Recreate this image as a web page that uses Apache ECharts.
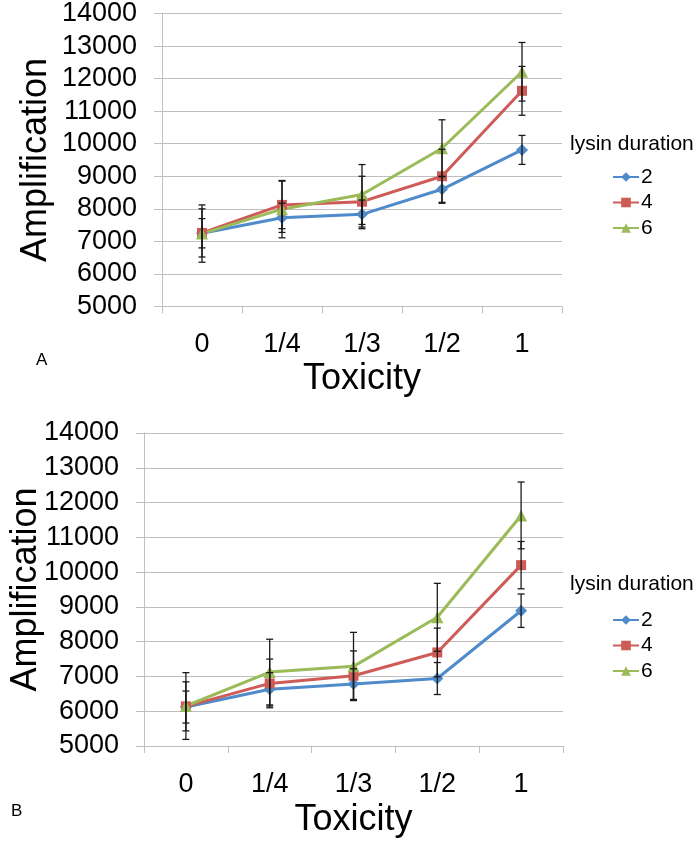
<!DOCTYPE html>
<html>
<head>
<meta charset="utf-8">
<script src="https://cdn.jsdelivr.net/npm/echarts@6/dist/echarts.min.js"></script>
<style>
  html, body { margin: 0; padding: 0; background: #fff; }
  #chart { width: 700px; height: 841px; }
</style>
</head>
<body>
<div id="chart"></div>
<script>
// ---- data ----
const categories = ['0', '1/4', '1/3', '1/2', '1'];
const seriesNames = ['2', '4', '6'];
const yMin = 5000, yMax = 14000, yStep = 1000;

// Panel A values
const aDur2 = [7250, 7725, 7830, 8600, 9810];
const aDur4 = [7260, 8120, 8220, 9000, 11625];
const aDur6 = [7240, 7990, 8440, 9860, 12210];
// Panel A error (+/-)
const aErr2 = [450, 450, 440, 400, 445];
const aErr4 = [740, 730, 780, 830, 750];
const aErr6 = [880, 880, 920, 875, 900];

// Panel B values
const bDur2 = [6120, 6630, 6780, 6940, 8890];
const bDur4 = [6140, 6800, 7020, 7690, 10200];
const bDur6 = [6150, 7125, 7290, 8700, 11630];
// Panel B error (+/-)
const bErr2 = [460, 480, 440, 460, 480];
const bErr4 = [705, 700, 714, 700, 680];
const bErr6 = [960, 945, 977, 977, 960];

// ---- styling ----
const colors = ['#4F8BCB', '#CF5B57', '#9BBB59'];
const symbols = ['diamond', 'rect', 'triangle'];
const symbolSizes = [12, 10, 12];
const FONT = '"Liberation Sans", Arial, sans-serif';
const gridColor = '#BFBFBF';

function errData(vals, errs) {
  return vals.map((v, i) => [i, v - errs[i], v + errs[i]]);
}

function renderErr(params, api) {
  const x = api.value(0);
  const lo = api.coord([x, api.value(1)]);
  const hi = api.coord([x, api.value(2)]);
  const w = 3.5;
  const st = { stroke: '#1a1a1a', lineWidth: 1.3 };
  return {
    type: 'group',
    children: [
      { type: 'line', shape: { x1: lo[0], y1: lo[1], x2: hi[0], y2: hi[1] }, style: st },
      { type: 'line', shape: { x1: lo[0] - w, y1: lo[1], x2: lo[0] + w, y2: lo[1] }, style: st },
      { type: 'line', shape: { x1: hi[0] - w, y1: hi[1], x2: hi[0] + w, y2: hi[1] }, style: st }
    ]
  };
}

function xAxis(gridIndex, gap) {
  return {
    type: 'category', gridIndex, data: categories, boundaryGap: true,
    axisLine: { lineStyle: { color: gridColor, width: 1 } },
    axisTick: { show: true, length: 7, lineStyle: { color: gridColor } },
    axisLabel: { color: '#000', fontSize: 27, fontFamily: FONT, margin: 25 },
    name: 'Toxicity', nameLocation: 'middle', nameGap: gap, nameMoveOverlap: false,
    nameTextStyle: { color: '#000', fontSize: 36, fontFamily: FONT }
  };
}
function yAxis(gridIndex, gap) {
  return {
    type: 'value', gridIndex, min: yMin, max: yMax, interval: yStep,
    axisLine: { show: true, lineStyle: { color: gridColor, width: 1 } },
    axisTick: { show: true, length: 8, lineStyle: { color: gridColor } },
    splitLine: { show: true, lineStyle: { color: gridColor, width: 1 } },
    axisLabel: { color: '#000', fontSize: 27, fontFamily: FONT, margin: 25, formatter: v => String(v) },
    name: 'Amplification', nameLocation: 'middle', nameGap: gap, nameRotate: 90, nameMoveOverlap: false,
    nameTextStyle: { color: '#000', fontSize: 36, fontFamily: FONT }
  };
}

function lineSeries(name, data, k, gi) {
  return {
    type: 'line', name, data, xAxisIndex: gi, yAxisIndex: gi,
    symbol: symbols[k], symbolSize: symbolSizes[k], showSymbol: true,
    lineStyle: { color: colors[k], width: 3 },
    itemStyle: { color: colors[k] },
    z: 2
  };
}
function errSeries(name, data, gi) {
  return {
    type: 'custom', name: name + '_err', data, xAxisIndex: gi, yAxisIndex: gi,
    renderItem: renderErr, encode: { x: 0, y: [1, 2] }, z: 4, silent: true
  };
}

const aVals = [aDur2, aDur4, aDur6], aErrs = [aErr2, aErr4, aErr6];
const bVals = [bDur2, bDur4, bDur6], bErrs = [bErr2, bErr4, bErr6];

const series = [];
seriesNames.forEach((n, k) => series.push(lineSeries(n, aVals[k], k, 0)));
seriesNames.forEach((n, k) => series.push(errSeries(n, errData(aVals[k], aErrs[k]), 0)));
seriesNames.forEach((n, k) => series.push(lineSeries(n, bVals[k], k, 1)));
seriesNames.forEach((n, k) => series.push(errSeries(n, errData(bVals[k], bErrs[k]), 1)));

function legend(top) {
  return {
    orient: 'vertical', left: 612, top, itemWidth: 26, itemHeight: 12, itemGap: 4.5,
    data: seriesNames, selectedMode: false,
    textStyle: { color: '#000', fontSize: 21, fontFamily: FONT, padding: [0, 0, 0, -3] },
    padding: 0
  };
}

const option = {
  animation: false,
  backgroundColor: '#fff',
  grid: [
    { left: 162, top: 8, width: 400, height: 298.5 },
    { left: 134, top: 433, width: 429, height: 313 }
  ],
  xAxis: [xAxis(0, 55), xAxis(1, 56)],
  yAxis: [yAxis(0, 108), yAxis(1, 100)],
  legend: [legend(166.5), legend(609.5)],
  graphic: [
    { type: 'text', left: 570, top: 134, style: { text: 'lysin duration', fill: '#000', font: '21px ' + FONT } },
    { type: 'text', left: 570, top: 574, style: { text: 'lysin duration', fill: '#000', font: '21px ' + FONT } },
    { type: 'text', left: 36, top: 352, style: { text: 'A', fill: '#000', font: '17px ' + FONT } },
    { type: 'text', left: 11, top: 803, style: { text: 'B', fill: '#000', font: '17px ' + FONT } }
  ],
  series
};

const chart = echarts.init(document.getElementById('chart'), null, { renderer: 'canvas' });
chart.setOption(option);
</script>
</body>
</html>
